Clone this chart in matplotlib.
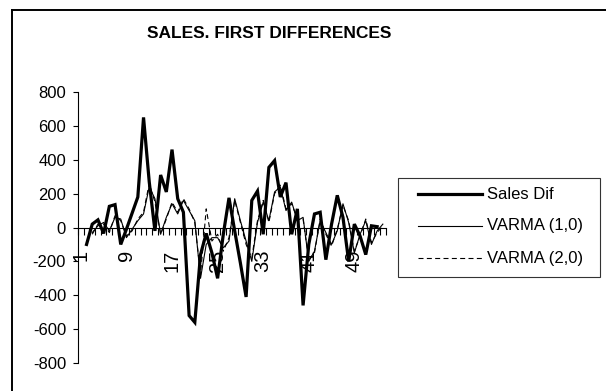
import numpy as np
import matplotlib
matplotlib.use("Agg")
import matplotlib.pyplot as plt
from matplotlib.lines import Line2D
from matplotlib.patches import Rectangle
from matplotlib.ticker import FixedLocator, NullFormatter

plt.rcParams['font.family'] = ['Liberation Sans', 'DejaVu Sans']

nan = np.nan

# period index of the differenced series
periods = list(range(1, 55))
tick_periods = [1, 9, 17, 25, 33, 41, 49]
tick_labels = ['1', '9', '17', '25', '33', '41', '49']
y_ticks = [-800, -600, -400, -200, 0, 200, 400, 600, 800]

sales_dif = [nan, -100, 20, 45, -35, 125, 135, -100, -10, 85,
             180, 650, 270, -20, 310, 210, 460, 170, 90, -520,
             -560, -160, -35, -150, -300, -40, 175, -20, -210, -410,
             160, 215, -40, 355, 395, 180, 265, -40, 110, -460,
             -100, 80, 90, -190, 20, 190, 60, -200, 20, -50,
             -160, 10, 5, nan]

varma_10 = [nan, nan, -30, 10, 30, -20, 60, 50, -60, -10,
            40, 80, 240, 170, -40, 60, 140, 80, 160, 100,
            40, -300, -100, -60, -60, -120, -80, 170, 40, -80,
            -200, 30, 150, 40, 210, 240, 100, 150, 40, 60,
            -200, -140, 40, -30, -100, -20, 140, 30, -150, -40,
            40, -100, -20, 20]

varma_20 = [nan, nan, -40, 20, 20, -30, 70, 40, -50, -20,
            50, 90, 260, 150, -40, 50, 150, 90, 170, 110,
            30, -280, 110, -80, -40, -140, -60, 160, 30, -100,
            -180, 40, 160, 30, 200, 250, 110, 140, 50, 50,
            -190, -150, 50, -40, -110, -10, 130, 40, -140, -50,
            50, -90, -30, 10]

W, H = 606, 391
fig = plt.figure(figsize=(W / 100, H / 100), dpi=100)


def fx(x):
    return x / W


def fy(y):
    return 1 - y / H


# chart-area frame (left and top edges)
fig.add_artist(Line2D([fx(12), fx(12)], [fy(10), fy(400)], color='black', lw=1.4))
fig.add_artist(Line2D([fx(12), fx(620)], [fy(10), fy(10)], color='black', lw=1.4))

ax = fig.add_axes([fx(78), fy(363), (385.7 - 78) / W, (363 - 92) / H])
ax.set_facecolor('none')

l_sales, = ax.plot(periods, sales_dif, color='black', lw=2.3, solid_joinstyle='miter')
l_v10, = ax.plot(periods, varma_10, color='black', lw=0.8)
l_v20, = ax.plot(periods, varma_20, color='black', lw=0.8, dashes=(4.5, 3))

ax.set_xlim(0.5, len(periods) + 0.5)
ax.set_ylim(-800, 800)

for side in ('top', 'right'):
    ax.spines[side].set_visible(False)
ax.spines['left'].set_linewidth(0.8)
ax.spines['bottom'].set_position(('data', 0))
ax.spines['bottom'].set_linewidth(0.8)

ax.set_yticks(y_ticks)
ax.set_yticklabels([str(v) for v in y_ticks])
ax.tick_params(axis='y', direction='out', length=3.6, width=0.8, pad=5, labelsize=12)

ax.xaxis.set_major_locator(FixedLocator(tick_periods))
ax.set_xticklabels(tick_labels)
ax.xaxis.set_minor_locator(FixedLocator(np.arange(0.5, len(periods) + 1, 1.0)))
ax.xaxis.set_minor_formatter(NullFormatter())
ax.tick_params(axis='x', which='major', length=0, pad=16, labelsize=14.5, labelrotation=90)
ax.tick_params(axis='x', which='minor', direction='out', length=4.8, width=0.8)

fig.text(fx(269.5), fy(33), 'SALES. FIRST DIFFERENCES', ha='center', va='center',
         fontsize=12.5, fontweight='bold')

# legend box
fig.add_artist(Rectangle((fx(398.3), fy(277.3)), fx(600) - fx(398.3), fy(178.3) - fy(277.3),
                         transform=fig.transFigure, facecolor='white', edgecolor='#333333',
                         lw=0.8))
entries = [(l_sales, 'Sales Dif', 194.3), (l_v10, 'VARMA (1,0)', 225.7), (l_v20, 'VARMA (2,0)', 258.3)]
for line, label, yy in entries:
    sample = Line2D([fx(418), fx(481.7)], [fy(yy), fy(yy)], color='black',
                    lw=line.get_linewidth(), linestyle=line.get_linestyle())
    if line is l_v20:
        sample.set_dashes((4.5, 3))
    fig.add_artist(sample)
    fig.text(fx(486.7), fy(yy), label, ha='left', va='center', fontsize=12)

fig.savefig('out.png', dpi=100)
